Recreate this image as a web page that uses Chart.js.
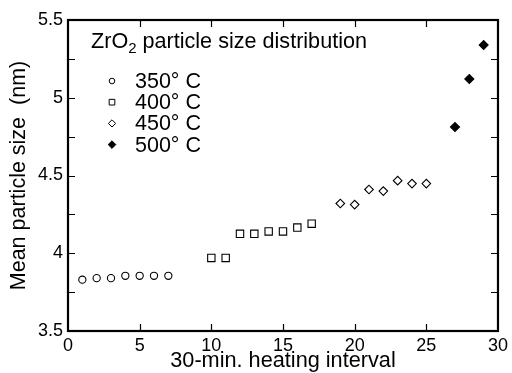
<!DOCTYPE html>
<html>
<head>
<meta charset="utf-8">
<script src="https://cdn.jsdelivr.net/npm/chart.js@4"></script>
<style>
html, body { margin: 0; padding: 0; background: #fff; }
#wrap { width: 512px; height: 373px; }
</style>
</head>
<body>
<div id="wrap"><canvas id="sizeChart" width="512" height="373"></canvas></div>
<script>
// heating intervals and mean particle sizes (nm) per temperature
let x350 = [1, 2, 3, 4, 5, 6, 7];
let y350 = [3.83, 3.84, 3.84, 3.855, 3.855, 3.855, 3.855];
let x400 = [10, 11, 12, 13, 14, 15, 16, 17];
let y400 = [3.97, 3.97, 4.125, 4.125, 4.14, 4.14, 4.165, 4.19];
let x450 = [19, 20, 21, 22, 23, 24, 25];
let y450 = [4.32, 4.313, 4.41, 4.4, 4.467, 4.448, 4.448];
let x500 = [27, 28, 29];
let y500 = [4.812, 5.121, 5.339];

let seriesLabels = ['350\u00b0 C', '400\u00b0 C', '450\u00b0 C', '500\u00b0 C'];
let xTicks = [0, 5, 10, 15, 20, 25, 30];
let yTicks = [3.5, 4, 4.5, 5, 5.5];

const FONT = '"Liberation Sans", Arial, Helvetica, sans-serif';

function toPoints(xs, ys) {
    let pts = [];
    for (let i = 0; i < xs.length; i++) {
        pts.push({ x: xs[i], y: ys[i] });
    }
    return pts;
}

let markers = [
    { style: 'circle', radius: 3.6, fill: '#fff' },
    { style: 'rect', radius: 5.2, fill: '#fff' },
    { style: 'rectRot', radius: 4.3, fill: '#fff' },
    { style: 'rectRot', radius: 4.5, fill: '#000' }
];

function makeDataset(i, xs, ys) {
    return {
        label: seriesLabels[i],
        data: toPoints(xs, ys),
        pointStyle: markers[i].style,
        pointRadius: markers[i].radius,
        pointBackgroundColor: markers[i].fill,
        pointBorderColor: '#000',
        pointBorderWidth: 1.1,
        showLine: false
    };
}

// frame, inward ticks, title and legend drawn on top
const framePlugin = {
    id: 'frame',
    afterDraw(chart) {
        const c = chart.ctx;
        const a = chart.chartArea;
        const xs = chart.scales.x;
        const ys = chart.scales.y;
        c.save();
        c.strokeStyle = '#000';
        c.lineWidth = 1.2;
        const tl = 7;
        for (let v of xTicks) {
            if (v === 0 || v === 30) continue;
            let px = Math.round(xs.getPixelForValue(v)) + 0.5;
            c.beginPath();
            c.moveTo(px, a.bottom); c.lineTo(px, a.bottom - tl);
            c.moveTo(px, a.top); c.lineTo(px, a.top + tl);
            c.stroke();
        }
        for (let v = 3.75; v < 5.5; v += 0.25) {
            let py = Math.round(ys.getPixelForValue(v)) + 0.5;
            c.beginPath();
            c.moveTo(a.left, py); c.lineTo(a.left + tl, py);
            c.moveTo(a.right, py); c.lineTo(a.right - tl, py);
            c.stroke();
        }
        c.lineWidth = 2.2;
        c.strokeRect(a.left, a.top, a.right - a.left, a.bottom - a.top);

        // title with subscript
        c.fillStyle = '#000';
        c.textBaseline = 'alphabetic';
        c.textAlign = 'left';
        c.font = '21.6px ' + FONT;
        let tx = 91, ty = 48;
        c.fillText('ZrO', tx, ty);
        tx += c.measureText('ZrO').width;
        c.font = '15px ' + FONT;
        c.fillText('2', tx, ty + 5);
        tx += c.measureText('2').width;
        c.font = '21.6px ' + FONT;
        c.fillText(' particle size distribution', tx, ty);

        // legend
        let legendMarkers = [
            { style: 'circle', radius: 2.8, fill: '#fff' },
            { style: 'rect', radius: 4, fill: '#fff' },
            { style: 'rectRot', radius: 3.6, fill: '#fff' },
            { style: 'rectRot', radius: 3.8, fill: '#000' }
        ];
        for (let i = 0; i < seriesLabels.length; i++) {
            let cy = 81 + i * 21.2;
            c.fillStyle = legendMarkers[i].fill;
            c.strokeStyle = '#000';
            c.lineWidth = 1;
            Chart.helpers.drawPoint(c, {
                pointStyle: legendMarkers[i].style,
                radius: legendMarkers[i].radius,
                rotation: 0,
                borderWidth: 1
            }, 112, cy);
            c.fillStyle = '#000';
            c.font = '21.5px ' + FONT;
            c.textBaseline = 'middle';
            c.fillText(seriesLabels[i], 135, cy + 1);
        }
        c.restore();
    }
};

let ctx = document.getElementById('sizeChart').getContext('2d');
let sizeChart = new Chart(ctx, {
    type: 'scatter',
    data: {
        datasets: [
            makeDataset(0, x350, y350),
            makeDataset(1, x400, y400),
            makeDataset(2, x450, y450),
            makeDataset(3, x500, y500)
        ]
    },
    options: {
        responsive: false,
        animation: false,
        layout: { padding: { top: 20, right: 9, left: 0, bottom: 0 } },
        plugins: {
            legend: { display: false },
            tooltip: { enabled: false }
        },
        scales: {
            x: {
                type: 'linear',
                min: 0,
                max: 30,
                afterBuildTicks: function(axis) {
                    axis.ticks = xTicks.map(v => ({ value: v }));
                },
                grid: { display: false, drawTicks: false },
                border: { display: false },
                ticks: {
                    color: '#000',
                    font: { family: FONT, size: 18 },
                    padding: 4,
                    maxRotation: 0,
                    callback: function(value) { return String(value); }
                },
                title: {
                    display: true,
                    text: '30-min. heating interval',
                    color: '#000',
                    font: { family: FONT, size: 21.7 },
                    padding: { top: -4, bottom: -1 }
                },
                afterFit: function(axis) { axis.height = 42; }
            },
            y: {
                type: 'linear',
                min: 3.5,
                max: 5.5,
                afterBuildTicks: function(axis) {
                    axis.ticks = yTicks.map(v => ({ value: v }));
                },
                grid: { display: false, drawTicks: false },
                border: { display: false },
                ticks: {
                    color: '#000',
                    font: { family: FONT, size: 18 },
                    padding: 5,
                    callback: function(value) { return String(value); }
                },
                title: {
                    display: true,
                    text: 'Mean particle size  (nm)',
                    color: '#000',
                    font: { family: FONT, size: 21.5 },
                    padding: { top: 6, bottom: 2 }
                },
                afterFit: function(axis) { axis.width = 68; }
            }
        }
    },
    plugins: [framePlugin]
});
</script>
</body>
</html>
